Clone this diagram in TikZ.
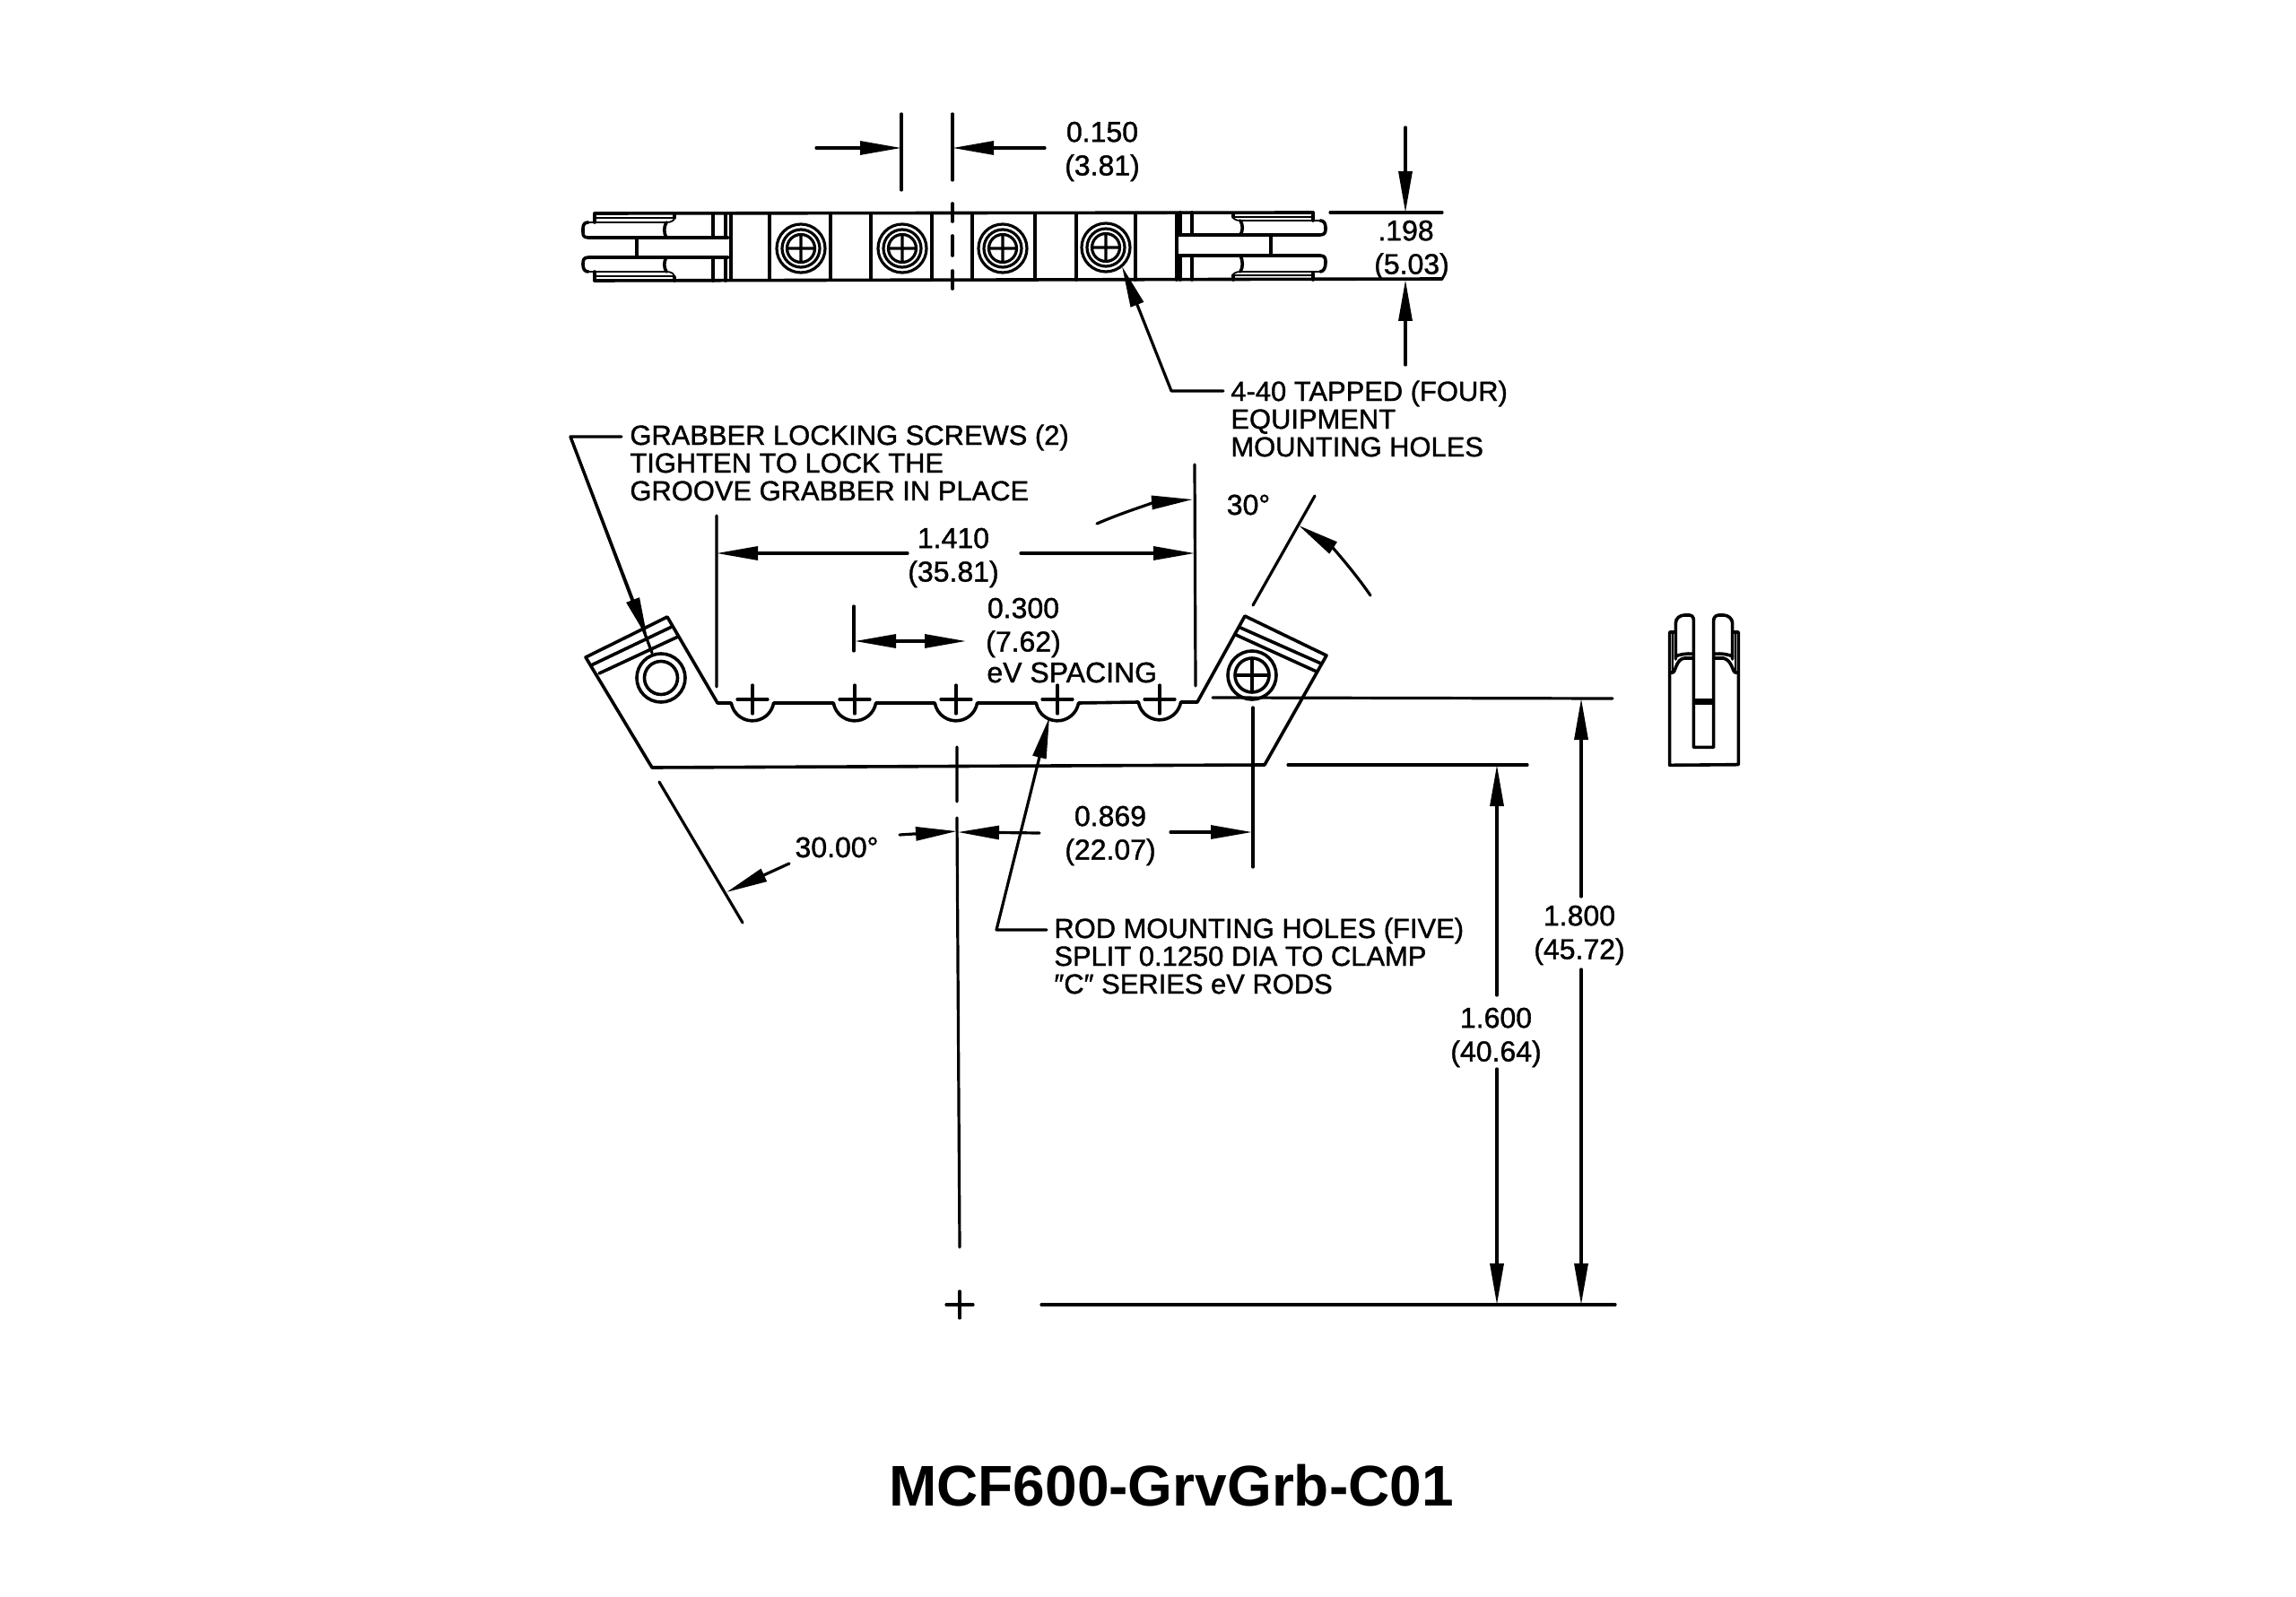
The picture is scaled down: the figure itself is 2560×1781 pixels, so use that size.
\documentclass[tikz,border=0pt]{standalone}
\usepackage{fontspec}
\setmainfont{Liberation Sans}
\usetikzlibrary{arrows.meta}
\tikzset{
  x=0.5pt,y=-0.5pt,
  ln/.style={line width=1.8pt,line cap=round,line join=round},
  thn/.style={line width=1.6pt,line cap=round,line join=round},
  hair/.style={line width=0.9pt,line cap=round,line join=round},
  dimarr/.style={thn,-{Triangle[length=23pt,width=7.5pt]}},
  dimtxt/.style={align=center,inner sep=0pt,font=\fontsize{16}{18.7}\selectfont\addfontfeature{FakeBold=1.2}},
  notetxt/.style={align=left,anchor=west,inner sep=0pt,font=\fontsize{15.45}{15.5}\selectfont\addfontfeature{FakeBold=1.2}},
}
\newcommand{\topscrew}[2]{%
  \draw[thn] (#1,#2) circle[radius=27] (#1,#2) circle[radius=21] (#1,#2) circle[radius=15.5]
    (#1-15.5,#2) -- (#1+15.5,#2) (#1,#2-15.5) -- (#1,#2+15.5);}
\newcommand{\grvplus}[1]{\draw[thn] (#1-17,780) -- (#1+17,780) (#1,764) -- (#1,796);}
\begin{document}
\begin{tikzpicture}
\useasboundingbox (0,0) rectangle (2560,1781);
\fill[white] (0,0) rectangle (2560,1781);

% ---------- top view ----------
\draw[ln] (663,238) -- (1464,237);
\draw[ln] (663,313) -- (1608,311);
\foreach \xx in {815,858,926,971,1039,1084,1154,1200,1266,1312}
  \draw[ln] (\xx,238) -- (\xx,312);
% left end
\draw[ln] (795,238) -- (795,265) (809,238) -- (809,265) (795,287) -- (795,313) (809,287) -- (809,313);
\draw[ln] (663,238) -- (663,248) (663,313) -- (663,303);
\draw[ln] (812,265) -- (656,265) .. controls (650,265) and (650,262) .. (650,258) -- (650,255) .. controls (650,250) and (652,248) .. (656,248);
\draw[hair] (656,248) -- (743,248) .. controls (748,248) and (752,246) .. (752,243);
\draw[ln] (752,243) -- (752,238);
\draw[ln] (743,248) .. controls (740,253) and (740,260) .. (743,265);
\draw[ln] (812,287) -- (656,287) .. controls (650,287) and (650,291) .. (650,295) .. controls (650,300) and (652,303) .. (656,303);
\draw[hair] (656,303) -- (743,303) .. controls (748,303) and (752,305) .. (752,309);
\draw[ln] (752,309) -- (752,313);
\draw[ln] (743,303) .. controls (740,298) and (740,292) .. (743,287);
\draw[hair] (663,243) -- (752,243) (663,308) -- (752,308);
\draw[ln] (710,265) -- (710,287);
% right end
\draw[ln] (1316,237) -- (1316,262) (1329,237) -- (1329,262) (1316,285) -- (1316,312) (1329,285) -- (1329,312);
\draw[ln] (1464,237) -- (1464,246) (1464,312) -- (1464,305);
\draw[ln] (1312,262) -- (1472,262) .. controls (1478,262) and (1478,258) .. (1478,254) .. controls (1478,249) and (1476,246) .. (1472,246);
\draw[hair] (1472,246) -- (1383,246) .. controls (1378,246) and (1375,244) .. (1375,242);
\draw[ln] (1375,242) -- (1375,238);
\draw[ln] (1383,246) .. controls (1386,251) and (1386,257) .. (1383,262);
\draw[ln] (1312,285) -- (1472,285) .. controls (1478,285) and (1478,289) .. (1478,293) .. controls (1478,298) and (1476,303) .. (1472,303);
\draw[hair] (1472,303) -- (1383,303) .. controls (1378,303) and (1375,305) .. (1375,307);
\draw[ln] (1375,307) -- (1375,312);
\draw[ln] (1383,303) .. controls (1386,298) and (1386,291) .. (1383,285);
\draw[hair] (1375,242) -- (1464,242) (1375,307) -- (1464,307);
\draw[ln] (1417,262) -- (1417,285);
% screws
\topscrew{893}{277}\topscrew{1006}{277}\topscrew{1118}{277}\topscrew{1233}{276}
% centre dashes and 0.150
\draw[ln] (1062,227) -- (1062,247) (1062,263) -- (1062,285) (1062,302) -- (1062,322);
\draw[thn] (1005,127) -- (1005,212) (1062,127) -- (1062,201);
\draw[dimarr] (910,165) -- (1005,165);
\draw[dimarr] (1165,165) -- (1062,165);
\node[dimtxt] (d150) at (1229,169) {0.150\\(3.81)};
% .198
\draw[thn] (1483,237) -- (1608,237);
\draw[dimarr] (1567,142) -- (1567,237);
\draw[dimarr] (1567,407) -- (1567,312);
\node[dimtxt] (d198) at (1574,279) {.198\kern6.5pt\\(5.03)};
% leader 4-40
\node[notetxt] (n440) at (1372,467) {4-40 TAPPED (FOUR)\\EQUIPMENT\\MOUNTING HOLES};
\coordinate (t440) at (1251,297);
\coordinate (k440) at (1306,436);
\draw[dimarr] (n440.west |- k440) ++(-8,0) -- (k440) -- (t440);

% ---------- front view ----------
\draw[ln] (653,733) -- (744,688) -- (800,784) -- (815.3,784)
  arc[start angle=170,end angle=10,radius=24] -- (929.3,784)
  arc[start angle=170,end angle=10,radius=24] -- (1042.3,784)
  arc[start angle=170,end angle=10,radius=24] -- (1155.3,784)
  arc[start angle=170,end angle=10,radius=24] -- (1269.3,783)
  arc[start angle=170,end angle=10,radius=24] -- (1335,783)
  -- (1388,687) -- (1479,731) -- (1410,853) -- (727,856) -- cycle;
\grvplus{839}\grvplus{953}\grvplus{1066}\grvplus{1179}\grvplus{1293}
% stripes left
\draw[ln] (659,742) -- (749,699) (668,751) -- (756,710);
\draw[ln] (737,756) circle[radius=27] (737,756) circle[radius=18.5];
% stripes right
\draw[ln] (1383,700) -- (1473,740) (1378,708) -- (1468,749);
\draw[ln] (1396,753) circle[radius=27] (1396,753) circle[radius=19] (1377,753) -- (1415,753) (1396,734) -- (1396,772);

% ---------- notes, leaders ----------
\node[notetxt] (ngrab) at (702,516) {GRABBER LOCKING SCREWS (2)\\TIGHTEN TO LOCK THE\\GROOVE GRABBER IN PLACE};
\coordinate (kgrab) at (636,487);
\coordinate (tgrab) at (727,728);
\draw[thn] (693,487) -- (kgrab) -- (tgrab);
\draw[dimarr] (kgrab) -- (722,712);
\node[notetxt] (nrod) at (1175,1066) {ROD MOUNTING HOLES (FIVE)\\SPLIT 0.1250 DIA TO CLAMP\\″C″ SERIES eV RODS};
\coordinate (krod) at (1111,1037);
\coordinate (trod) at (1170,800);
\draw[dimarr] (1167,1037) -- (krod) -- (trod);

% ---------- 1.410 ----------
\draw[thn] (799,575) -- (799,766) (1332,518) -- (1333,765);
\draw[dimarr] (1012,617) -- (799,617);
\draw[dimarr] (1138,617) -- (1332,617);
\node[dimtxt] (d1410) at (1063,622) {1.410\\(35.81)};
% ---------- 0.300 ----------
\draw[thn] (952,676) -- (952,726);
\draw[dimarr] (1000,715) -- (953,715);
\draw[dimarr] (1020,715) -- (1077,715);
\draw[thn] (1000,715) -- (1020,715);
\node[dimtxt] (d300) at (1141,700) {0.300\\(7.62)};
\node[dimtxt,anchor=west] (dev) at (1100,750) {eV SPACING};
% ---------- 30 deg top ----------
\draw[thn] (1397,675) -- (1466,553);
\draw[thn,-{Triangle[length=23pt,width=7.5pt]}] (1223,584) .. controls (1255,570) and (1290,560) .. (1330,557);
\draw[thn,-{Triangle[length=23pt,width=7.5pt]}] (1528,664) .. controls (1508,635) and (1485,610) .. (1448,586);
\node[dimtxt] (d30) at (1392,563) {30°};
% ---------- 30.00 ----------
\draw[thn] (735,872) -- (828,1029);
\draw[dimarr] (880,963) -- (810,995);
\node[dimtxt] (d3000) at (933,945) {30.00°};
% ---------- centre line, 0.869 ----------
\draw[thn] (1067,833) -- (1067,894) (1067,912) -- (1070,1391);
\draw[dimarr] (1003,931) -- (1067,927);
\draw[dimarr] (1159,929) -- (1068,928);
\draw[thn] (1397,789) -- (1397,967);
\draw[dimarr] (1305,928) -- (1396,928);
\node[dimtxt] (d869) at (1238,932) {0.869\\(22.07)};
% ---------- centre mark and heights ----------
\draw[thn] (1055,1455) -- (1085,1455) (1070,1440) -- (1070,1470);
\draw[thn] (1161,1455) -- (1801,1455);
\draw[thn] (1352,778) -- (1798,779);
\draw[thn] (1436,853) -- (1703,853);
\draw[dimarr] (1669,1110) -- (1669,853);
\draw[dimarr] (1669,1192) -- (1669,1455);
\draw[dimarr] (1763,1000) -- (1763,779);
\draw[dimarr] (1763,1081) -- (1763,1455);
\node[dimtxt] (d1600) at (1668,1157) {1.600\\(40.64)};
\node[dimtxt] (d1800) at (1761,1043) {1.800\\(45.72)};

% ---------- side view ----------
\begin{scope}[shift={(1820,660)},x=0.16667pt,y=-0.16667pt]
\draw[ln] (145,135) -- (125,135) -- (125,580) -- (355,578) -- (355,135) -- (335,135);
\draw[ln] (145,225) -- (145,105) .. controls (145,88) and (160,78) .. (175,78) -- (190,78) .. controls (200,78) and (205,85) .. (205,95) -- (205,520) -- (272,520) -- (272,95) .. controls (272,85) and (280,78) .. (290,78) -- (305,78) .. controls (320,78) and (335,90) .. (335,105) -- (335,225);
\draw[ln] (125,270) -- (135,270) .. controls (145,270) and (145,225) .. (175,222) -- (205,222);
\draw[ln] (145,215) .. controls (160,210) and (180,205) .. (205,208);
\draw[ln] (355,270) -- (345,270) .. controls (335,270) and (335,230) .. (305,222) -- (272,222);
\draw[ln] (335,215) .. controls (320,210) and (300,205) .. (272,208);
\draw[hair] (135,135) -- (135,270) (345,135) -- (345,270);
\fill (205,358) rectangle (272,378);
\end{scope}

% ---------- title ----------
\node[inner sep=0pt,font=\fontsize{32}{38}\selectfont\bfseries] (title) at (1306,1657) {MCF600-GrvGrb-C01};
\end{tikzpicture}
\end{document}
